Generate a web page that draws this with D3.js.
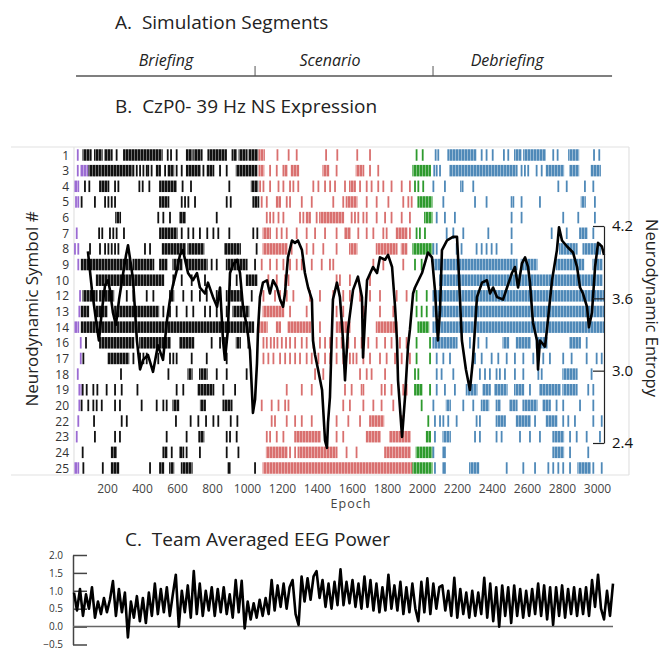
<!DOCTYPE html>
<html>
<head>
<meta charset="utf-8">
<script src="https://cdn.jsdelivr.net/npm/d3@7"></script>
<style>
  body { margin: 0; background: #fff; }
  svg text { font-family: "Open Sans", "Noto Sans", sans-serif; fill: #222; white-space: pre; }
</style>
</head>
<body>
<svg id="chart" width="665" height="650"></svg>
<script>
// ---- data ----
// A. simulation segments (epochs)
const segmentNames = ["Briefing", "Scenario", "Debriefing"];
const segmentBounds = [23, 1046, 2063, 3086];
const segmentLabelAt = [537, 1474, 2486];

// B. symbol rows, colour phases
const symbols = [1, 3, 4, 5, 6, 7, 8, 9, 10, 12, 13, 14, 16, 17, 18, 19, 20, 22, 23, 24, 25];
const phaseBreaks = [53, 1068, 1948, 2060];
const phaseColors = ["#9b6bd3", "#111111", "#d9706f", "#2e9a2e", "#4f89b8"];
const epochTicks = [200, 400, 600, 800, 1000, 1200, 1400, 1600, 1800, 2000, 2200, 2400, 2600, 2800, 3000];
const entropyTicks = [2.4, 3.0, 3.6, 4.2];

// symbol expressions: a number = one epoch, [a, b] = a dense run of epochs
const sym1 = [33, [65,107], [131,170], [189,227], 255, [297,513], 547, 566, 598, [656,684], [698,741], [779,880], [917,938], [957,998], [1013,1059], [1071,1097], 1174, 1238, 1284, 1452, 1516, 1630, 1703, 1969, 2004, 2078, 2093, [2150,2306], 2341, 2369, 2404, 2468, 2493, [2531,2564], [2583,2703], 2750, 2775, [2840,2893], 2983, 3013];
const sym3 = [33, [52,88], [99,122], [131,160], [170,341], 351, 370, 389, 408, 427, 436, 455, [484,503], 532, [551,579], 598, 627, [656,731], 751, [774,808], 846, 884, [941,1055], [1071,1094], 1132, 1170, [1208,1227], [1255,1293], [1436,1465], 1512, [1626,1665], 1703, 1750, [1950,2046], 2070, 2084, 2103, [2160,2465], [2474,2541], 2569, 2588, 2607, 2655, 2684, [2712,2807], [2846,2893], [2969,3017]];
const sym4 = [[17,36], 74, 99, [160,208], 246, 265, 385, 404, 442, [503,594], 632, 680, 899, [1027,1059], 1075, 1094, 1132, 1180, 1208, 1246, 1265, 1293, 1379, 1408, 1446, 1475, 1503, 1560, [1588,1617], 1646, 1684, 1712, 1750, 1779, 1826, 1884, 1931, 1960, 1979, 2007, 2065, 2131, [2223,2232], 2293, 2779, 2827, 2931, 2979];
const sym5 = [23, 36, 55, 131, 189, 208, 227, 246, [503,551], 627, 646, 665, 703, 884, 907, [1036,1065], 1084, 1113, [1170,1189], 1227, 1246, 1313, 1370, 1493, 1550, [1569,1626], 1684, 1741, 1808, 1893, 1922, 1941, [1979,2055], 2122, 2303, 2369, [2512,2522], 2569, 2674, [2912,2931], 2988];
const sym6 = [[252,275], 493, 522, 560, [617,646], 827, 1113, 1132, 1151, 1180, 1208, 1303, 1322, [1341,1360], 1398, [1417,1550], 1598, 1617, 1636, 1665, 1684, 1741, 1789, 1826, 1884, 1931, [2017,2055], 2084, 2131, 2188, 2512, 2569, 2807, 2893, 2988];
const sym7 = [27, 155, 173, 217, 236, 255, 297, [503,598], 627, 665, 693, 731, 773, 808, 836, 899, 1036, 1059, [1094,1132], 1170, 1198, 1227, 1284, 1341, 1389, 1446, 1512, [1560,1588], 1636, 1684, 1722, 1779, 1798, [1855,1912], 1931, 1969, 1988, 2017, 2141, 2179, 2236, 2379, 2512, 2741, 2827, [2903,2941], 2979];
const sym8 = [17, 36, 103, 160, 189, 208, 227, 246, 265, 417, 446, [518,646], [665,751], [874,960], 1055, [1094,1227], 1255, 1341, 1379, 1436, 1512, [1588,1626], [1741,1855], [1884,1912], [1950,2055], 2065, 2084, 2198, 2226, 2312, 2341, 2369, 2398, 2426, 2512, [2788,2884], [2922,3017]];
const sym9 = [36, [55,331], [351,465], [503,541], [579,627], [656,770], 798, 827, [884,998], 1046, 1084, 1132, 1170, 1208, 1246, 1284, 1313, 1370, 1427, 1474, 1493, 1722, 1779, 1893, 1960, 1998, [2065,2541], [2569,2655], [2769,2922], [2979,3027]];
const sym10 = [[141,522], 579, 627, 684, 760, 903, 941, [998,1055], 1122, 1170, 1218, 1237, 1512, 1531, 1588, 1703, [2103,3027]];
const sym12 = [46, [65,141], [160,236], 313, 351, 427, 465, [560,579], 636, 684, 731, 770, 827, [884,960], 1027, 1094, 1160, 1189, 1227, 1265, 1360, 1417, 1493, 1550, 1588, 1646, 1703, 1760, 1855, 1912, 1969, 2027, [2065,3036]];
const sym13 = [42, [55,93], [141,198], [246,493], 522, 560, 598, 655, 693, 760, 789, 827, 884, [922,1008], [1094,1208], 1246, 1341, 1512, 1550, 1665, 1760, 1836, 1969, 1998, 2027, [2065,3036]];
const sym14 = [[17,36], [55,1036], [1074,1113], [1170,1189], [1236,1360], 1417, [1512,1588], 1665, [1741,1855], [1979,2036], [2065,3036]];
const sym16 = [50, 80, [160,351], [389,560], [617,694], 798, 846, 874, [941,960], 1008, 1094, 1113, 1136, 1155, 1174, 1199, 1223, 1246, 1275, 1313, 1341, 1379, 1417, 1446, 1475, 1512, 1541, 1579, 1617, 1655, 1693, 1741, 1789, 1826, 1874, 1912, 1969, 2046, [2065,2198], 2274, 2322, 2369, [2465,2493], [2541,2617], [2655,2712], [2846,2903], 2941];
const sym17 = [50, 65, [208,322], 351, 389, 408, 427, 493, 560, 579, 598, 684, 770, 884, 1094, 1122, 1151, 1189, 1218, 1246, 1275, 1303, 1341, 1370, 1408, 1446, 1475, 1512, 1550, 1588, 1607, 1626, 1665, 1703, 1760, 1798, 1846, 1884, 1931, 1969, 2046, 2084, 2122, 2160, 2303, 2341, 2398, 2436, 2484, 2531, 2579, 2636, 2693, 2731, 2807, 2855, 2941, 2998, 3027];
const sym18 = [33, 280, 551, [665,684], [731,770], 827, 884, 998, 1389, 1436, 1646, 1684, 1712, 1789, 1960, 1979, 2084, 2112, 2179, 2331, 2360, 2388, 2426, 2445, 2474, 2531, 2579, 2665, 2684, [2807,2884], 2969];
const sym19 = [[42,50], 61, 84, 122, 145, 198, 246, 284, 374, 598, 636, [722,808], 865, 932, 1227, 1313, 1370, 1560, 1598, [1655,1665], 1769, 1788, 1826, 1893, 1912, [1960,1998], 2046, 2084, 2131, 2188, [2255,2312], [2350,2388], [2417,2484], [2531,2579], 2617, [2674,2788], [2807,2884], 2950, 2979];
const sym20 = [42, 55, 93, 122, 141, 170, 246, 274, 398, 484, 522, 541, [579,608], [736,760], [865,912], 1084, 1141, 1180, 1218, 1237, 1550, 1588, 1665, 1722, 1769, 1836, 1998, 2065, [2141,2160], 2236, 2293, [2341,2379], [2426,2445], [2503,2541], [2579,2655], [2693,2731], 2769, 2807, 2903, 2979];
const sym22 = [36, 126, 284, 313, 594, 678, 722, 766, 808, 836, 907, 945, 1141, 1160, 1227, 1275, 1313, 1370, 1512, 1579, 1646, [1703,1779], 1884, 2036, 2074, 2103, 2122, 2150, 2198, 2312, 2331, [2426,2474], [2541,2617], 2646, [2712,2769], 2807, 2836, 2874, 2979, 3027];
const sym23 = [27, 131, 246, 274, 541, 655, [727,751], 884, 903, 941, 1113, 1132, 1170, 1208, [1275,1417], 1512, 1550, [1684,1760], [1817,1931], [2027,2046], 2074, [2122,2160], 2303, 2331, 2426, 2455, 2560, 2617, 2674, [2750,2807], 2846, 2884, 2941, 3017];
const sym24 = [61, [227,252], [522,541], 570, [617,636], 655, 731, 884, 951, [1113,1227], 1246, 1275, [1294,1512], 1569, 1626, [1789,1931], [1969,2055], 2065, 2122, 2131, [2750,2807], 2846, 2950];
const sym25 = [[17,36], 65, 176, [227,265], 446, [503,522], [560,579], [627,684], [893,903], 1046, [1094,1941], [1950,2055], 2074, 2122, 2131, [2274,2322], 2484, 2579, 2646, 2722, 2750, 2779, 2807, 2846, [2893,2960], 2979, 3027];
const symbolEvents = [sym1, sym3, sym4, sym5, sym6, sym7, sym8, sym9, sym10, sym12, sym13, sym14, sym16, sym17, sym18, sym19, sym20, sym22, sym23, sym24, sym25];

// neurodynamic entropy trace
const entropyEpoch = [91, 114, 137, 154, 171, 189, 206, 217, 234, 251, 269, 286, 309, 320, 337, 349, 371, 389, 406, 434, 463, 491, 520, 543, 560, 577, 600, 617, 634, 646, 663, 691, 714, 731, 760, 777, 806, 829, 846, 863, 874, 891, 903, 920, 943, 960, 977, 1000, 1017, 1034, 1046, 1057, 1063, 1074, 1091, 1114, 1131, 1149, 1171, 1189, 1206, 1217, 1234, 1257, 1274, 1291, 1314, 1331, 1349, 1371, 1377, 1389, 1406, 1429, 1446, 1457, 1463, 1474, 1491, 1514, 1531, 1549, 1560, 1577, 1606, 1634, 1657, 1663, 1686, 1720, 1743, 1760, 1789, 1806, 1829, 1846, 1857, 1863, 1886, 1903, 1920, 1931, 1949, 1960, 2000, 2034, 2057, 2074, 2091, 2103, 2114, 2143, 2177, 2200, 2206, 2228, 2251, 2274, 2291, 2314, 2343, 2371, 2389, 2406, 2429, 2463, 2486, 2514, 2531, 2549, 2571, 2589, 2606, 2617, 2634, 2657, 2663, 2674, 2703, 2714, 2743, 2771, 2783, 2800, 2829, 2863, 2886, 2903, 2920, 2943, 2954, 2971, 2989, 3006, 3028, 3040];
const entropyValue = [3.99, 3.67, 3.42, 3.25, 3.50, 3.71, 3.75, 3.67, 3.48, 3.38, 3.59, 3.75, 3.96, 4.04, 3.88, 3.75, 3.25, 3.01, 3.09, 3.13, 2.99, 3.21, 3.09, 3.42, 3.59, 3.71, 3.84, 3.96, 4.00, 3.92, 3.81, 3.75, 3.81, 3.69, 3.64, 3.73, 3.61, 3.53, 3.69, 3.25, 3.09, 3.34, 3.81, 3.88, 3.92, 3.81, 3.53, 3.36, 3.17, 2.65, 2.76, 3.06, 3.34, 3.61, 3.73, 3.75, 3.64, 3.75, 3.69, 3.59, 3.53, 3.64, 3.94, 4.08, 4.06, 4.08, 4.00, 3.81, 3.69, 3.59, 3.25, 3.13, 3.01, 2.84, 2.42, 2.36, 2.57, 2.78, 3.59, 3.73, 3.61, 3.25, 2.92, 3.34, 3.67, 3.78, 3.61, 3.11, 3.75, 3.86, 3.81, 3.94, 3.92, 3.96, 3.86, 3.53, 3.25, 2.92, 2.45, 2.78, 3.20, 3.34, 3.64, 3.69, 3.81, 3.98, 3.94, 3.67, 3.25, 3.50, 4.00, 4.08, 4.11, 4.11, 3.94, 3.25, 3.01, 2.84, 3.09, 3.61, 3.73, 3.75, 3.64, 3.69, 3.61, 3.59, 3.69, 3.81, 3.86, 3.69, 3.89, 3.94, 3.86, 3.73, 3.40, 3.25, 3.01, 3.25, 3.20, 3.34, 3.75, 4.00, 4.19, 4.08, 4.03, 3.98, 3.86, 3.69, 3.64, 3.53, 3.36, 3.48, 3.86, 4.06, 4.03, 3.96];

// C. team averaged EEG power
const powerTicks = [-0.5, 0.0, 0.5, 1.0, 1.5, 2.0];
const eegPower = [0.95, 0.45, 1.05, 0.3, 0.9, 0.5, 1.1, 0.25, 0.7, 0.35, 0.8, 0.4, 0.75, 1.27, 0.3, 1.05, 0.4, 0.95, -0.3, 0.7, 0.25, 0.85, 0.15, 0.8, 0.1, 0.95, 0.3, 1.2, 0.35, 1.05, 0.4, 1.1, 0.3, 0.9, 1.45, 0.0, 1.0, 0.4, 1.15, 0.25, 1.55, 0.35, 1.2, 0.3, 1.0, 0.45, 1.1, 0.3, 1.05, 0.4, 1.1, 0.35, 0.9, 0.25, 1.3, 0.4, 1.28, -0.05, 0.7, 0.2, 0.65, 0.25, 0.75, 0.3, 0.8, 0.35, 1.3, 0.45, 1.15, 0.55, 1.2, 0.5, 1.1, 1.3, 0.35, 0.05, 1.4, 0.7, 1.35, 0.75, 1.4, 1.55, 0.8, 1.3, 0.55, 1.2, 0.5, 1.25, 0.6, 1.6, 0.6, 1.25, 0.65, 1.3, 0.55, 1.2, 0.5, 1.4, 0.55, 1.3, 0.45, 1.2, 0.4, 1.1, 0.45, 1.45, 0.5, 1.15, 0.45, 1.25, 0.35, 1.1, 0.4, 1.2, 0.5, 0.15, 1.25, 0.4, 1.35, 0.35, 1.2, 0.5, 1.1, 1.15, 0.45, 1.0, 0.3, 1.36, 0.25, 1.05, 0.35, 0.95, 0.25, 1.0, 0.3, 0.95, 0.35, 1.36, 0.25, 1.2, 0.15, 1.1, 0.0, 1.15, 0.3, 1.1, 0.1, 1.15, 0.3, 1.05, 0.25, 1.0, 0.3, 1.05, 0.35, 1.2, 0.3, 1.15, 0.2, 1.1, 0.05, 1.1, 0.3, 1.15, 0.25, 1.05, 0.35, 1.1, 0.3, 1.05, 0.35, 1.1, 0.3, 1.3, 0.55, 1.45, 0.5, 0.2, 1.0, 0.3, 1.2];

// ---- drawing ----
const svg = d3.select("#chart");

const x = d3.scaleLinear().domain([0, 3000]).range([72, 597]);
const y = d3.scalePoint().domain(symbols).range([155, 468]);
const yEnt = d3.scaleLinear().domain([2.4, 4.2]).range([443, 226]);
const phase = d3.scaleThreshold().domain(phaseBreaks).range(phaseColors);

// stripe patterns so dense runs look like packed ticks
const defs = svg.append("defs");
phaseColors.forEach((c, i) => {
    const p = defs.append("pattern")
        .attr("id", "run" + i)
        .attr("patternUnits", "userSpaceOnUse")
        .attr("width", 3).attr("height", 20);
    p.append("rect").attr("width", 2.6).attr("height", 20).attr("fill", c);
});

// A. Simulation segments
svg.append("text").attr("x", 115).attr("y", 29)
    .style("font-size", "19px").text("A.  Simulation Segments");

svg.append("line")
    .attr("x1", x(segmentBounds[0])).attr("x2", x(segmentBounds[3]))
    .attr("y1", 76).attr("y2", 76)
    .attr("stroke", "#555").attr("stroke-width", 1.5);

svg.selectAll(".seg-div")
    .data(segmentBounds.slice(1, 3))
    .join("line")
    .attr("class", "seg-div")
    .attr("x1", d => x(d)).attr("x2", d => x(d))
    .attr("y1", 66).attr("y2", 76)
    .attr("stroke", "#555").attr("stroke-width", 1);

svg.selectAll(".seg-label")
    .data(segmentNames)
    .join("text")
    .attr("class", "seg-label")
    .attr("x", (d, i) => x(segmentLabelAt[i]))
    .attr("y", 66)
    .attr("text-anchor", "middle")
    .style("font-size", "16px")
    .style("font-style", "italic")
    .text(d => d);

// B. NS expression
svg.append("text").attr("x", 115).attr("y", 113)
    .style("font-size", "19px").text("B.  CzP0- 39 Hz NS Expression");

// light frame
const frame = svg.append("g").attr("stroke", "#e2e2e2").attr("stroke-width", 1.2);
frame.append("line").attr("x1", 11).attr("x2", 629).attr("y1", 147).attr("y2", 147);
frame.append("line").attr("x1", 11).attr("x2", 629).attr("y1", 475).attr("y2", 475);
frame.append("line").attr("x1", 74).attr("x2", 74).attr("y1", 147).attr("y2", 475);
frame.append("line").attr("x1", 629).attr("x2", 629).attr("y1", 147).attr("y2", 475);

// flatten events
const events = [];
symbolEvents.forEach((list, i) => {
    list.forEach(m => {
        const a = Array.isArray(m) ? m[0] : m;
        const b = Array.isArray(m) ? m[1] : m;
        events.push({ sym: symbols[i], a: a, b: b, run: Array.isArray(m) });
    });
});

const tickH = 11.5;
svg.append("g").selectAll("rect")
    .data(events)
    .join("rect")
    .attr("x", d => x(d.a) - 0.9)
    .attr("width", d => Math.max(1.8, x(d.b) - x(d.a) + 1.8))
    .attr("y", d => y(d.sym) - tickH / 2)
    .attr("height", tickH)
    .attr("fill", d => d.run
        ? "url(#run" + phaseColors.indexOf(phase(d.a)) + ")"
        : phase(d.a));

// row labels
svg.append("g").selectAll("text")
    .data(symbols)
    .join("text")
    .attr("x", 69)
    .attr("y", d => y(d) + 4.5)
    .attr("text-anchor", "end")
    .style("font-size", "12px")
    .style("fill", "#333")
    .text(d => d);

// epoch axis
const xAxis = svg.append("g")
    .attr("transform", "translate(0,475)")
    .call(d3.axisBottom(x).tickValues(epochTicks).tickSize(0).tickPadding(9).tickFormat(d3.format("d")));
xAxis.select(".domain").remove();
xAxis.selectAll("text")
    .style("font-family", "'Open Sans', sans-serif")
    .style("font-size", "12px")
    .style("fill", "#444");

svg.append("text").attr("x", 351).attr("y", 508)
    .attr("text-anchor", "middle")
    .style("font-size", "12.5px")
    .style("letter-spacing", "1px")
    .style("fill", "#444")
    .text("Epoch");

svg.append("text")
    .attr("transform", "translate(38,309) rotate(-90)")
    .attr("text-anchor", "middle")
    .style("font-size", "17px")
    .text("Neurodynamic Symbol #");

// entropy line
const entropyLine = d3.line()
    .x((d, i) => x(entropyEpoch[i]))
    .y(d => yEnt(d));
svg.append("path")
    .datum(entropyValue)
    .attr("d", entropyLine)
    .attr("fill", "none")
    .attr("stroke", "#000")
    .attr("stroke-width", 2.6)
    .attr("stroke-linejoin", "round");

// entropy axis on the right
const entAxis = svg.append("g")
    .attr("transform", "translate(604,0)")
    .call(d3.axisRight(yEnt).tickValues(entropyTicks).tickSizeInner(-11).tickSizeOuter(0)
        .tickPadding(8).tickFormat(d3.format(".1f")));
entAxis.select(".domain").attr("stroke", "#222").attr("stroke-width", 1.2);
entAxis.selectAll(".tick line").attr("stroke", "#222").attr("stroke-width", 1.2);
entAxis.selectAll("text")
    .style("font-family", "'Open Sans', sans-serif")
    .style("font-size", "15px")
    .style("fill", "#111");

svg.append("text")
    .attr("transform", "translate(646,308) rotate(90)")
    .attr("text-anchor", "middle")
    .style("font-size", "16.5px")
    .text("Neurodynamic Entropy");

// C. Team averaged EEG power
svg.append("text").attr("x", 125).attr("y", 546)
    .style("font-size", "19px").text("C.  Team Averaged EEG Power");

const xP = d3.scaleLinear().domain([0, eegPower.length - 1]).range([74, 613]);
const yP = d3.scaleLinear().domain([-0.5, 2.0]).range([644.5, 555]);

const pAxis = svg.append("g")
    .attr("transform", "translate(73,0)")
    .call(d3.axisLeft(yP).tickValues(powerTicks).tickSizeInner(-14).tickSizeOuter(0)
        .tickPadding(10).tickFormat(d3.format(".1f")));
pAxis.select(".domain").attr("stroke", "#444").attr("stroke-width", 1.5);
pAxis.selectAll(".tick line").attr("stroke", "#444").attr("stroke-width", 1.5);
pAxis.selectAll("text")
    .style("font-family", "'Open Sans', sans-serif")
    .style("font-size", "10px")
    .style("fill", "#333");

svg.append("line")
    .attr("x1", 73).attr("x2", xP(eegPower.length - 1))
    .attr("y1", yP(0)).attr("y2", yP(0))
    .attr("stroke", "#666").attr("stroke-width", 1.5);

svg.append("path")
    .datum(eegPower)
    .attr("d", d3.line().x((d, i) => xP(i)).y(d => yP(d)))
    .attr("fill", "none")
    .attr("stroke", "#000")
    .attr("stroke-width", 2.6)
    .attr("stroke-linejoin", "round");
</script>
</body>
</html>
